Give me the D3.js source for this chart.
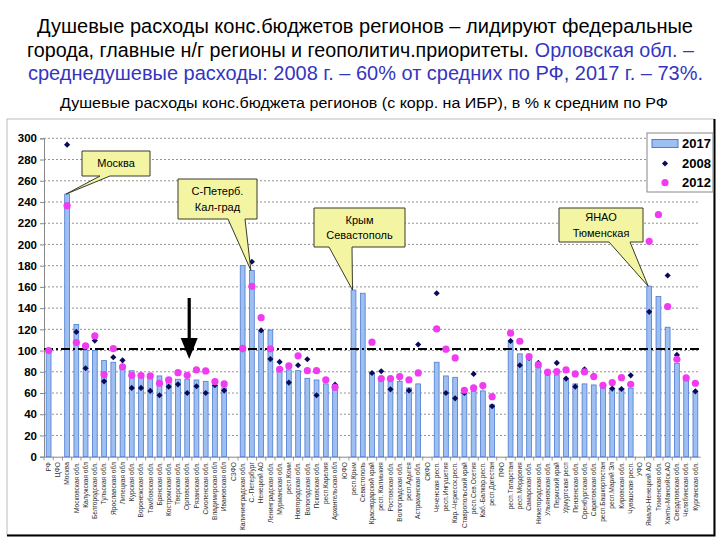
<!DOCTYPE html>
<html><head><meta charset="utf-8">
<script src="https://cdn.jsdelivr.net/npm/d3@7"></script>
<style>body{margin:0;background:#fff}svg{display:block}</style>
</head><body><svg id="c" width="720" height="540"></svg>
<script>
const categories = ["РФ","ЦФО","Москва","Московская обл.","Калужская обл","Белгородская обл.","Тульская обл.","Ярославская обл","Липецкая обл","Курская обл.","Воронежская обл.","Тамбовская обл.","Брянская обл.","Костромская обл.","Тверская обл.","Орловская обл.","Рязанская обл.","Смоленская обл.","Владимирская обл","Ивановская обл","СЗФО","Калининградская обл.","С.-Петербург","Ненецкий АО","Ленинградская обл.","Мурманская обл.","респ.Коми","Новгородская обл.","Вологодская обл.","Псковская обл.","респ.Карелия","Архангельская обл","ЮФО","респ.Крым","Севастополь","Краснодарский край","респ. Калмыкия","Ростовская обл.","Волгоградская обл.","респ.Адыгея","Астраханская обл.","СКФО","Чеченская респ.","респ.Ингушетия","Кар.-Черкесск.респ.","Ставропольский край","респ.Сев.Осетия","Каб.-Балкар.респ.","респ.Дагестан","ПФО","респ.Татарстан","респ.Мордовия","Самарская обл.","Нижегородская обл.","Ульяновская обл.","Пермский край","Удмуртская респ","Пензенская обл.","Оренбургская обл.","Саратовская обл.","респ.Башкортостан","респ.Марий Эл","Кировская обл.","Чувашская респ.","УФО","Ямало-Ненецкий АО","Тюменская обл.","Ханты-Мансийск.АО","Свердловская обл.","Челябинская обл.","Курганская обл."];
const values2017 = [100,null,247.5,124.5,100.5,100,90.6,89,84,81,78.6,76.4,76.1,74.2,73,73,72.3,71,67,64.8,null,180,175.5,118,119.4,82.7,81.8,81.1,73.9,72.3,68.6,66.7,null,157,154,78.6,74.2,71,71,64.8,68.6,null,89,76.1,74.8,59.7,61.6,62,49,null,107.9,96.9,92.1,84.9,77,77,73.3,68.6,68.6,67.6,65.4,64.2,64.2,64.5,null,160.7,150.9,122,88,73.3,61.6];
const values2008 = [100,null,294,117.6,83.3,109.4,71,93.7,90.8,64.8,64.8,62,57.9,66,68.2,60,66.4,60,67.3,62.3,null,101,183.7,119,92,89.3,69.8,86.2,91.8,57.9,72,67.9,null,null,null,78.9,80.5,63.5,74.5,62.3,105.7,null,154,60,55,60,78,66,47.5,null,109.1,86.2,93,88.4,79,88.4,73.6,66,82.4,76.4,66.5,64.2,63.8,76.7,null,136.5,null,170.7,95.9,74,61.6];
const values2012 = [100,null,236.5,107.5,104.4,113.8,77.4,101.9,84.6,76.7,76.4,76.1,69.2,72.3,79.2,76.7,81.8,80.8,70.8,68.6,null,102,160.5,131,101.6,82.4,85.5,95,81.1,81.1,72.3,65.4,null,null,null,107.9,73.6,73.6,75.5,72.3,78.9,null,120.4,101.3,93.1,62.6,64.8,67,56.6,null,116.4,108.8,94.3,86.5,79.6,80.2,81.8,78,79.9,75.5,67.3,69.8,74.5,68.2,null,203,228,141.5,91.8,74.2,69.2];
const yTicks = [0,20,40,60,80,100,120,140,160,180,200,220,240,260,280,300];
const seriesNames = ["2017","2008","2012"];
const refLineValue = 101.5;
const callouts = [
  {lines:["Москва"], target:"Москва", box:[82,151,150,176], base:[100,110]},
  {lines:["С-Петерб.","Кал-град"], target:"С.-Петербург", box:[178,179,257,219], base:[228,245]},
  {lines:["Крым","Севастополь"], target:"респ.Крым", box:[314,208,405,247], base:[329,352]},
  {lines:["ЯНАО","Тюменская"], target:"Ямало-Ненецкий АО", box:[559,208,643,242], base:[609,630]}
];
const titleLines = [
  [{t:"Душевые расходы конс.бюджетов регионов – лидируют федеральные",c:"#000"}],
  [{t:"города, главные н/г регионы и геополитич.приоритеты.",c:"#000"},{t:"Орловская обл. –",c:"#3535c0"}],
  [{t:"среднедушевые расходы: 2008 г. – 60% от средних по РФ, 2017 г. – 73%.",c:"#3535c0"}]
];
const subtitle = "Душевые расходы конс.бюджета регионов (с корр. на ИБР), в % к средним по РФ";

const svg = d3.select("#c");
svg.append("rect").attr("width",720).attr("height",540).attr("fill","#fff");

// titles
const tfont = "'Liberation Sans Narrow','Arial Narrow','Liberation Sans',Arial,sans-serif";
const tSpecs = [{y:33,x0:37,x1:693},{y:57,x0:27,x1:694},{y:80,x0:28,x1:703}];
titleLines.forEach((parts,i)=>{
  const s = tSpecs[i];
  const gap = 6;
  const nodes = parts.map(p=>svg.append("text").attr("y",s.y).attr("font-family",tfont).attr("font-size",20.5).attr("fill",p.c).text(p.t));
  const widths = nodes.map(n=>n.node().getComputedTextLength());
  const avail = (s.x1-s.x0) - gap*(parts.length-1);
  const k = avail/d3.sum(widths);
  let xx = s.x0;
  nodes.forEach((n,j)=>{
    const w = widths[j]*k;
    n.attr("x",xx).attr("textLength",w).attr("lengthAdjust","spacingAndGlyphs");
    xx += w + gap;
  });
});
svg.append("text").attr("x",60).attr("y",108).attr("font-family",tfont).attr("font-size",15.5)
  .attr("fill","#000").text(subtitle).attr("textLength",608).attr("lengthAdjust","spacingAndGlyphs");

// frame
svg.append("rect").attr("x",7).attr("y",119).attr("width",707).attr("height",416)
  .attr("fill","#fff").attr("stroke","#bbb").attr("stroke-width",1);
svg.append("path").attr("d","M7,535.5H714.5V119").attr("fill","none").attr("stroke","#000").attr("stroke-width",2);

const x = d3.scaleBand().domain(categories).range([44,700]).padding(0);
const y = d3.scaleLinear().domain([0,300]).range([456.7,138.3]);
const cx = d => x(d)+x.bandwidth()/2;

// gridlines
svg.append("g").selectAll("line").data(yTicks.filter(v=>v>0)).join("line")
  .attr("x1",44).attr("x2",700).attr("y1",d=>y(d)).attr("y2",d=>y(d))
  .attr("stroke","#777").attr("stroke-width",0.8).attr("stroke-dasharray","2,2");

// y axis
const ya = svg.append("g").attr("transform","translate(44,0)").call(d3.axisLeft(y).tickValues(yTicks).tickSize(4).tickPadding(3));
ya.select(".domain").attr("stroke","#888");
ya.selectAll(".tick line").attr("stroke","#888");
ya.selectAll("text").attr("font-family","Arial,'Liberation Sans',sans-serif").attr("font-weight","bold").attr("font-size",11.5).attr("fill","#000");

// x axis
const xa = svg.append("g").attr("transform","translate(0,456.7)").call(d3.axisBottom(x).tickSize(0).tickPadding(0));
xa.select(".domain").attr("stroke","#888");
xa.selectAll("text").attr("font-family","Arial,'Liberation Sans',sans-serif").attr("font-size",6.6).attr("fill","#333")
  .attr("text-anchor","end").attr("dy",null).attr("transform","translate(0.5,5.5) rotate(-90)").attr("dominant-baseline","middle");
svg.append("g").selectAll("line").data(categories).join("line")
  .attr("x1",d=>x(d)).attr("x2",d=>x(d)).attr("y1",456.7).attr("y2",460.5).attr("stroke","#888").attr("stroke-width",0.8);

// bars
const bw = 4.8;
svg.append("g").selectAll("rect").data(categories.map((c,i)=>({c,v:values2017[i]})).filter(d=>d.v!=null)).join("rect")
  .attr("x",d=>cx(d.c)-bw/2).attr("width",bw).attr("y",d=>y(d.v)).attr("height",d=>y(0)-y(d.v))
  .attr("fill","#9dbff2").attr("stroke","#4f7bd0").attr("stroke-width",0.8);

// reference line
svg.append("line").attr("x1",44).attr("x2",700).attr("y1",y(refLineValue)).attr("y2",y(refLineValue))
  .attr("stroke","#000").attr("stroke-width",2).attr("stroke-dasharray","9,3,2,3");

// 2008 diamonds
const diamond = d3.symbol().type(d3.symbolSquare).size(19);
svg.append("g").selectAll("path").data(categories.map((c,i)=>({c,v:values2008[i]})).filter(d=>d.v!=null)).join("path")
  .attr("d",diamond).attr("transform",d=>`translate(${cx(d.c)},${y(d.v)}) rotate(45)`).attr("fill","#0a0a5c");
// 2012 dots
svg.append("g").selectAll("circle").data(categories.map((c,i)=>({c,v:values2012[i]})).filter(d=>d.v!=null)).join("circle")
  .attr("cx",d=>cx(d.c)).attr("cy",d=>y(d.v)).attr("r",3.6).attr("fill","#f03cf0");

// arrow pointing at Орловская обл.
const ax = cx("Орловская обл.")+2;
svg.append("rect").attr("x",ax-1.6).attr("y",298).attr("width",3.2).attr("height",42).attr("fill","#000");
svg.append("path").attr("d",`M${ax-8.5},338L${ax+8.5},338L${ax},359Z`).attr("fill","#000");

// callouts
callouts.forEach(co=>{
  const [x0,y0,x1,y1] = co.box;
  const tx = cx(co.target)-1, ty = y(values2017[categories.indexOf(co.target)]);
  const p = `M${x0},${y0}L${x1},${y0}L${x1},${y1}L${co.base[1]},${y1}L${tx},${ty}L${co.base[0]},${y1}L${x0},${y1}Z`;
  svg.append("path").attr("d",p).attr("fill","#f3f5a2").attr("stroke","#3a3a2a").attr("stroke-width",1);
  const mid = (x0+x1)/2, n = co.lines.length, lh = 15.5;
  const top = (y0+y1)/2 - (n-1)*lh/2;
  co.lines.forEach((l,i)=>svg.append("text").attr("x",mid).attr("y",top+i*lh).attr("dy","0.35em")
    .attr("text-anchor","middle").attr("font-family","Arial,'Liberation Sans',sans-serif").attr("font-size",11).attr("fill","#000").text(l));
});

// legend
const lg = svg.append("g");
lg.append("rect").attr("x",647).attr("y",133).attr("width",66).attr("height",59).attr("fill","#fff").attr("stroke","#888");
lg.append("rect").attr("x",652).attr("y",139.5).attr("width",26).attr("height",8).attr("fill","#9dbff2").attr("stroke","#4f7bd0");
lg.append("path").attr("d",diamond).attr("transform","translate(665,163.5) rotate(45)").attr("fill","#0a0a5c");
lg.append("circle").attr("cx",665).attr("cy",182.7).attr("r",3.6).attr("fill","#f03cf0");
[143.5,163.5,182.7].forEach((yy,i)=>lg.append("text").attr("x",682).attr("y",yy).attr("dy","0.36em")
  .attr("font-family","Arial,'Liberation Sans',sans-serif").attr("font-weight","bold").attr("font-size",13).attr("fill","#000").text(seriesNames[i]));
</script></body></html>
